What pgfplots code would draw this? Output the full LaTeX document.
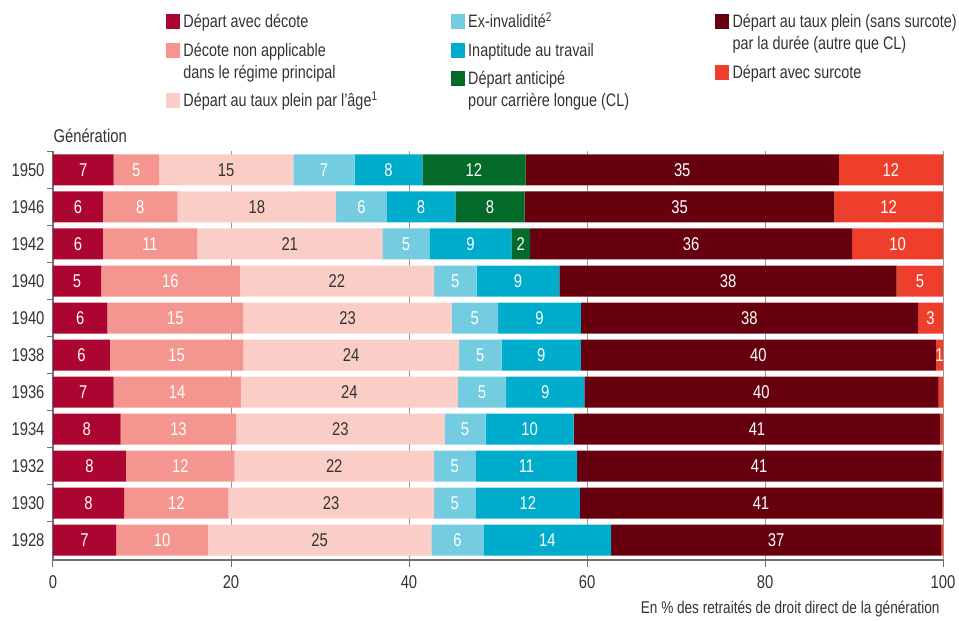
\documentclass[border=0pt]{standalone}
\usepackage{fontspec}
\setmainfont{Liberation Sans}[FakeStretch=0.8]
\usepackage{pgfplots}
\usepackage{pgfplotstable}
\pgfplotsset{compat=1.18}

\definecolor{decote}{HTML}{AD0531}
\definecolor{nonapp}{HTML}{F4958F}
\definecolor{age}{HTML}{FACDC6}
\definecolor{exinv}{HTML}{74CCE0}
\definecolor{inapt}{HTML}{00ACCB}
\definecolor{cl}{HTML}{046A2A}
\definecolor{duree}{HTML}{66000E}
\definecolor{surcote}{HTML}{EE3F2C}
\definecolor{txt}{HTML}{333333}
\definecolor{axisgray}{HTML}{707070}

% one row per generation, top bar first; pos = place on the y axis
\pgfplotstableread{
pos gen  a   b    c    d   e    f    g    h
10  1950 6.8 5.1  15.1 6.9 7.6  11.6 35.2 11.7
9   1946 5.6 8.4  17.8 5.7 7.7  7.8  34.8 12.2
8   1942 5.6 10.6 20.8 5.3 9.2  2.1  36.2 10.2
7   1940 5.4 15.6 21.8 4.8 9.3  0    37.9 5.2
6   1940 6.1 15.3 23.4 5.2 9.3  0    37.9 2.8
5   1938 6.4 15.0 24.2 4.8 8.9  0    39.9 0.8
4   1936 6.8 14.3 24.4 5.4 8.8  0    39.8 0.5
3   1934 7.6 13.0 23.4 4.6 9.9  0    41.2 0.3
2   1932 8.2 12.2 22.4 4.7 11.4 0    40.9 0.2
1   1930 8.0 11.7 23.1 4.7 11.7 0    40.7 0.1
0   1928 7.1 10.3 25.1 5.9 14.3 0    37.1 0.2
}\gen

% segment: column, fill, label colour (labels sit in the middle of the segment)
\newcommand\seg[3]{%
  \addplot[fill=#2, draw=none,
    visualization depends on={\thisrow{#1} \as \segw},
    nodes near coords={\pgfmathparse{\segw>0.7 ? 1 : 0}\ifnum\pgfmathresult=1
      \pgfmathprintnumber[fixed,precision=0,assume math mode=true]{\segw}\fi},
    every node near coord/.append style={text=#3, anchor=center}]
    table[x=#1, y=pos] {\gen};
}

\pgfplotsset{
  sq/.style={legend image code/.code={\fill[#1] (0pt,-1pt) rectangle (13pt,13pt);}},
  legcol/.style={scale only axis, width=890pt, height=408.5pt, hide axis,
    xmin=0, xmax=1, ymin=0, ymax=1,
    legend cell align=left,
    legend style={at={(#1,1.341)}, anchor=north west, draw=none, fill=none,
      inner sep=0pt, outer sep=0pt, row sep=6.5pt, column sep=4pt,
      font=\fontsize{18}{22}\selectfont, text=txt,
      cells={anchor=base west}, nodes={inner sep=0pt, text depth=, text height=}}},
}
\newcommand\leg[1]{\begin{tabular}[t]{@{}l@{}}#1\end{tabular}}

\begin{document}
\begin{tikzpicture}
\begin{axis}[
  xbar stacked,
  scale only axis, width=890pt, height=408.5pt,
  xmin=0, xmax=100, ymin=-0.54, ymax=10.5,
  bar width=31pt,
  axis x line*=bottom, axis y line*=left,
  x axis line style={-, axisgray, line width=1.6pt},
  y axis line style={-, axisgray, line width=1.2pt},
  xtick={0,20,...,100},
  xmajorgrids, grid style={gray!80, line width=1pt},
  ytick={0,...,10},
  yticklabels={1928,1930,1932,1934,1936,1938,1940,1940,1942,1946,1950},
  major y tick style={draw=none},
  minor ytick={0.5,1.5,...,10.5},
  minor y tick style={axisgray, line width=1pt},
  minor tick length=6pt, major tick length=7pt,
  major x tick style={axisgray, line width=1pt},
  tick align=outside,
  tick label style={font=\fontsize{18.5}{20}\selectfont, text=txt},
  /pgf/number format/assume math mode=true,
  xticklabel style={yshift=-5pt},
  yticklabel style={xshift=2pt},
  ylabel={Génération},
  every axis y label/.style={at={(axis description cs:0,1)}, anchor=base west,
    xshift=-3pt, yshift=9pt, font=\fontsize{18.5}{20}\selectfont, text=txt},
  xlabel={En \% des retraités de droit direct de la génération},
  every axis x label/.style={at={(axis description cs:1,0)}, anchor=base east,
    yshift=-54pt, font=\fontsize{17}{19}\selectfont, text=txt},
  nodes near coords style={font=\fontsize{18.5}{20}\selectfont},
]
\seg{a}{decote}{white}
\seg{b}{nonapp}{white}
\seg{c}{age}{txt}
\seg{d}{exinv}{white}
\seg{e}{inapt}{white}
\seg{f}{cl}{white}
\seg{g}{duree}{white}
\seg{h}{surcote}{white}
\end{axis}

\begin{axis}[legcol=0.127]
\addlegendimage{sq=decote}\addlegendentry{\leg{Départ avec décote}}
\addlegendimage{sq=nonapp}\addlegendentry{\leg{Décote non applicable\\dans le régime principal}}
\addlegendimage{sq=age}\addlegendentry{\leg{Départ au taux plein par l'âge\textsuperscript{1}}}
\end{axis}
\begin{axis}[legcol=0.447]
\addlegendimage{sq=exinv}\addlegendentry{\leg{Ex-invalidité\textsuperscript{2}}}
\addlegendimage{sq=inapt}\addlegendentry{\leg{Inaptitude au travail}}
\addlegendimage{sq=cl}\addlegendentry{\leg{Départ anticipé\\pour carrière longue (CL)}}
\end{axis}
\begin{axis}[legcol=0.744]
\addlegendimage{sq=duree}\addlegendentry{\leg{Départ au taux plein (sans surcote)\\par la durée (autre que CL)}}
\addlegendimage{sq=surcote}\addlegendentry{\leg{Départ avec surcote}}
\end{axis}
\path (-53pt,-57pt) rectangle (906pt,560pt);
\end{tikzpicture}
\end{document}
